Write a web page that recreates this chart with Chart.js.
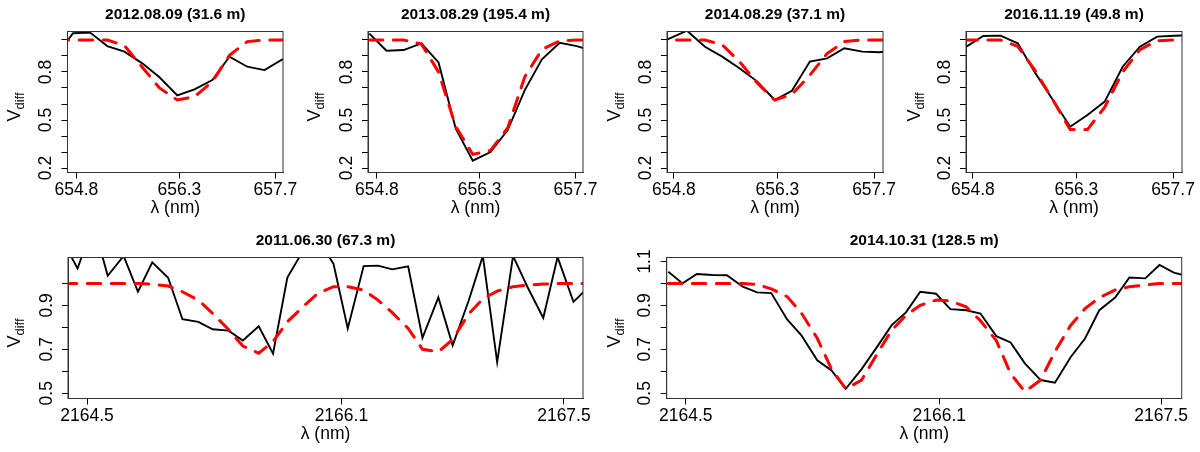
<!DOCTYPE html>
<html>
<head>
<meta charset="utf-8">
<script src="https://cdn.jsdelivr.net/npm/chart.js@4.4.0/dist/chart.umd.min.js"></script>
<style>
  body { margin: 0; background: #fff; width: 1200px; height: 452px; position: relative; overflow: hidden; }
  canvas { position: absolute; }
</style>
</head>
<body>
<canvas id="c1" width="300" height="226" style="left:0;top:0"></canvas>
<canvas id="c2" width="300" height="226" style="left:300px;top:0"></canvas>
<canvas id="c3" width="300" height="226" style="left:600px;top:0"></canvas>
<canvas id="c4" width="300" height="226" style="left:900px;top:0"></canvas>
<canvas id="c5" width="600" height="226" style="left:0;top:226px"></canvas>
<canvas id="c6" width="600" height="226" style="left:600px;top:226px"></canvas>
<script>
// panel titles
const titles = ['2012.08.09 (31.6 m)', '2013.08.29 (195.4 m)', '2014.08.29 (37.1 m)',
                '2016.11.19 (49.8 m)', '2011.06.30 (67.3 m)', '2014.10.31 (128.5 m)'];

// tick values / labels
const xTicksHa = [654.8, 656.3, 657.7];
const xTicksBr = [2164.5, 2166.1, 2167.5];
const yTicksHa = [0.2, 0.3, 0.4, 0.5, 0.6, 0.7, 0.8, 0.9, 1.0];
const yLabelsHa = [0.2, 0.5, 0.8];
const yTicks5 = [0.5, 0.6, 0.7, 0.8, 0.9, 1.0];
const yTicks6 = [0.5, 0.6, 0.7, 0.8, 0.9, 1.0, 1.1];
const yLabelsBr = [0.5, 0.7, 0.9, 1.1];

// 2012.08.09
const lam1 = [654.49, 654.75, 655.00, 655.25, 655.50, 655.76, 656.01, 656.27, 656.52, 656.78, 657.03, 657.29, 657.54, 657.80, 658.05];
const obs1 = [0.89, 1.042, 1.046, 0.962, 0.927, 0.854, 0.767, 0.654, 0.692, 0.750, 0.896, 0.833, 0.812, 0.879, 0.90];
const mod1 = [1.0, 1.0, 1.0, 1.0, 0.965, 0.83, 0.70, 0.625, 0.645, 0.74, 0.905, 0.99, 1.0, 1.0, 1.0];

// 2013.08.29
const lam2 = [654.69, 654.94, 655.19, 655.45, 655.70, 655.95, 656.20, 656.46, 656.71, 656.96, 657.21, 657.47, 657.72, 657.97];
const obs2 = [1.04, 0.933, 0.937, 0.979, 0.86, 0.448, 0.246, 0.30, 0.437, 0.687, 0.879, 0.983, 0.962, 0.93];
const mod2 = [1.0, 1.0, 1.0, 0.975, 0.80, 0.46, 0.285, 0.31, 0.45, 0.77, 0.94, 0.995, 1.0, 1.0];

// 2014.08.29
const lam3 = [654.49, 654.74, 654.99, 655.25, 655.50, 655.75, 656.01, 656.26, 656.51, 656.77, 657.02, 657.27, 657.53, 657.78, 658.03];
const obs3 = [0.96, 1.01, 1.058, 0.958, 0.896, 0.823, 0.740, 0.625, 0.683, 0.865, 0.885, 0.948, 0.927, 0.923, 0.94];
const mod3 = [1.0, 1.0, 1.0, 1.0, 0.97, 0.865, 0.73, 0.625, 0.66, 0.78, 0.915, 0.99, 1.0, 1.0, 1.0];

// 2016.11.19
const lam4 = [654.67, 654.95, 655.20, 655.45, 655.70, 655.96, 656.21, 656.46, 656.71, 656.97, 657.22, 657.47, 657.72, 657.97];
const obs4 = [0.948, 1.025, 1.027, 0.979, 0.796, 0.625, 0.458, 0.531, 0.615, 0.833, 0.958, 1.021, 1.026, 1.03];
const mod4 = [1.0, 1.0, 1.0, 0.96, 0.81, 0.625, 0.44, 0.44, 0.58, 0.80, 0.94, 0.995, 1.0, 1.0];

// 2011.06.30
const lam5 = [2164.35, 2164.44, 2164.54, 2164.63, 2164.73, 2164.82, 2164.91, 2165.01, 2165.10, 2165.20, 2165.29, 2165.39,
              2165.48, 2165.58, 2165.67, 2165.76, 2165.86, 2165.95, 2166.05, 2166.14, 2166.24, 2166.33, 2166.42, 2166.52,
              2166.61, 2166.71, 2166.80, 2166.90, 2166.99, 2167.08, 2167.18, 2167.27, 2167.37, 2167.46, 2167.56, 2167.65];
const obs5 = [1.19, 1.068, 1.27, 1.035, 1.125, 0.962, 1.096, 1.026, 0.837, 0.825, 0.791, 0.785,
              0.74, 0.805, 0.68, 1.027, 1.15, 1.20, 1.09, 0.795, 1.079, 1.081, 1.064, 1.078,
              0.752, 0.936, 0.718, 0.92, 1.125, 0.642, 1.125, 0.985, 0.843, 1.12, 0.916, 0.98];
const mod5 = [1.0, 1.0, 1.0, 1.0, 1.0, 1.0, 0.996, 0.988, 0.962, 0.924, 0.863, 0.79,
              0.715, 0.682, 0.735, 0.825, 0.895, 0.954, 0.985, 0.985, 0.97, 0.924, 0.867, 0.795,
              0.70, 0.688, 0.745, 0.86, 0.93, 0.965, 0.985, 0.992, 0.997, 1.0, 1.0, 1.0];

// 2014.10.31
const lam6 = [2164.39, 2164.48, 2164.57, 2164.67, 2164.76, 2164.86, 2164.95, 2165.04, 2165.14, 2165.23, 2165.33, 2165.42,
              2165.51, 2165.61, 2165.70, 2165.80, 2165.89, 2165.98, 2166.08, 2166.17, 2166.27, 2166.36, 2166.46, 2166.55,
              2166.64, 2166.74, 2166.83, 2166.93, 2167.02, 2167.11, 2167.21, 2167.30, 2167.40, 2167.49, 2167.58, 2167.68];
const obs6 = [1.053, 1.0, 1.043, 1.038, 1.037, 0.985, 0.959, 0.956, 0.836, 0.764, 0.65, 0.604,
              0.52, 0.61, 0.703, 0.81, 0.868, 0.962, 0.953, 0.883, 0.878, 0.863, 0.76, 0.731,
              0.636, 0.56, 0.548, 0.665, 0.749, 0.878, 0.936, 1.027, 1.023, 1.084, 1.049, 1.03];
const mod6 = [1.0, 1.0, 1.0, 1.0, 1.0, 1.0, 0.995, 0.975, 0.94, 0.865, 0.75, 0.61,
              0.52, 0.56, 0.67, 0.787, 0.855, 0.90, 0.924, 0.92, 0.893, 0.83, 0.74, 0.59,
              0.507, 0.56, 0.69, 0.81, 0.885, 0.935, 0.97, 0.985, 0.993, 1.0, 1.0, 1.0];

const FONT = '"Liberation Sans", Arial, Helvetica, sans-serif';
Chart.defaults.font.family = FONT;
Chart.defaults.color = '#000';

// box round the plot region
const frame = {
  id: 'frame',
  afterDatasetsDraw(chart) {
    const {ctx, chartArea: a} = chart;
    ctx.save();
    ctx.strokeStyle = '#333';
    ctx.lineWidth = 1;
    ctx.strokeRect(a.left, a.top, a.right - a.left, a.bottom - a.top);
    ctx.restore();
  }
};

// y title V_diff (subscript not possible with the axis title)
const vLabel = {
  id: 'vlabel',
  afterDraw(chart) {
    const {ctx, chartArea: a} = chart;
    const cy = (a.top + a.bottom) / 2 + 5;
    ctx.save();
    ctx.translate(20, cy);
    ctx.rotate(-Math.PI / 2);
    ctx.fillStyle = '#000';
    ctx.textBaseline = 'alphabetic';
    ctx.font = '18px ' + FONT;
    const w1 = ctx.measureText('V').width;
    ctx.font = '13px ' + FONT;
    const w2 = ctx.measureText('diff').width;
    const x0 = -(w1 + w2) / 2;
    ctx.font = '18px ' + FONT;
    ctx.fillText('V', x0, 0);
    ctx.font = '13px ' + FONT;
    ctx.fillText('diff', x0 + w1, 3.5);
    ctx.restore();
  }
};

function drawPanel(id, t, lam, obs, mod, xr, yr, xt, yt, yl, left, right) {
  const pts = ys => lam.map((x, i) => ({x: x, y: ys[i]}));
  return new Chart(document.getElementById(id), {
    type: 'line',
    data: {
      datasets: [
        { data: pts(mod), borderColor: '#ff0000', borderWidth: 3, borderDash: [13.5, 10.5],
          borderCapStyle: 'round', pointRadius: 0, tension: 0, clip: 0 },
        { data: pts(obs), borderColor: '#000', borderWidth: 1.9, pointRadius: 0, tension: 0, clip: 0 }
      ]
    },
    options: {
      responsive: false,
      animation: false,
      events: [],
      layout: { padding: { left: 0, right: right, top: 0, bottom: 0 } },
      plugins: {
        legend: { display: false },
        tooltip: { enabled: false },
        title: { display: true, text: t, fullSize: false, color: '#000',
                 font: { size: 15.5, weight: 'bold' }, padding: { top: 5.8, bottom: 7.1 } }
      },
      scales: {
        x: {
          type: 'linear', min: xr[0], max: xr[1],
          afterBuildTicks: s => { s.ticks = xt.map(v => ({value: v})); },
          afterFit: s => { s.height = 53.5; },
          ticks: { autoSkip: false, maxRotation: 0, padding: 1, color: '#000', font: { size: 17.5 },
                   callback: v => v.toFixed(1) },
          grid: { drawOnChartArea: false, drawTicks: true, tickLength: 6, color: '#000' },
          border: { color: '#333' },
          title: { display: true, text: 'λ (nm)', color: '#000', font: { size: 17.5 },
                   padding: { top: 0, bottom: 7 } }
        },
        y: {
          type: 'linear', min: yr[0], max: yr[1],
          afterBuildTicks: s => { s.ticks = yt.map(v => ({value: v})); },
          afterFit: s => { s.width = left; },
          ticks: { autoSkip: false, minRotation: 90, maxRotation: 90, crossAlign: 'center', padding: 3,
                   color: '#000', font: { size: 17.5 },
                   callback: v => yl.includes(v) ? v.toFixed(1) : '' },
          grid: { drawOnChartArea: false, drawTicks: true, tickLength: 6, color: '#000' },
          border: { color: '#333' }
        }
      }
    },
    plugins: [frame, vLabel]
  });
}

const yrHa = [0.172, 1.053];
const yrBr = [0.476, 1.118];
drawPanel('c1', titles[0], lam1, obs1, mod1, [654.67, 657.81], yrHa, xTicksHa, yTicksHa, yLabelsHa, 67.5, 17);
drawPanel('c2', titles[1], lam2, obs2, mod2, [654.67, 657.81], yrHa, xTicksHa, yTicksHa, yLabelsHa, 68, 17);
drawPanel('c3', titles[2], lam3, obs3, mod3, [654.70, 657.83], yrHa, xTicksHa, yTicksHa, yLabelsHa, 67, 17);
drawPanel('c4', titles[3], lam4, obs4, mod4, [654.70, 657.83], yrHa, xTicksHa, yTicksHa, yLabelsHa, 66, 18);
drawPanel('c5', titles[4], lam5, obs5, mod5, [2164.38, 2167.62], yrBr, xTicksBr, yTicks5, yLabelsBr, 68, 17);
drawPanel('c6', titles[5], lam6, obs6, mod6, [2164.38, 2167.63], yrBr, xTicksBr, yTicks6, yLabelsBr, 66.7, 18.3);
</script>
</body>
</html>
